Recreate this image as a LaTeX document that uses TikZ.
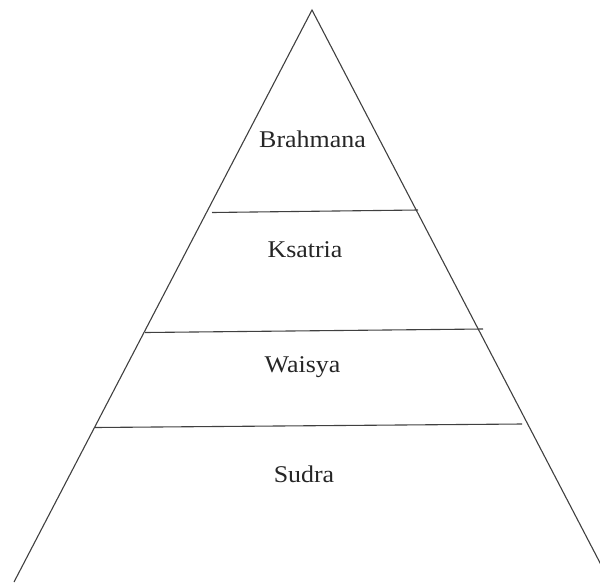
\documentclass[tikz,border=0pt]{standalone}
\usepackage{fontspec}
\setmainfont{Liberation Serif}
\newcommand{\wide}[1]{\scalebox{1.08}[1]{#1}}
\begin{document}
\begin{tikzpicture}[x=1pt,y=-1pt,
  edge/.style={draw=black!75,line width=1.1pt},
  label/.style={font=\fontsize{24}{28}\selectfont,text=black!85,inner sep=0pt,anchor=base}]
\useasboundingbox (0,0) rectangle (600,582);
\clip (0,0) rectangle (600,582);
\coordinate (apex) at (312,10);
\coordinate (bl) at (14,582);
\coordinate (br) at (610,582);
\draw[edge] (bl) -- (apex) -- (br);
\coordinate (l1a) at (212,212.5);
\coordinate (l1b) at (418,210);
\coordinate (l2a) at (145,332.5);
\coordinate (l2b) at (483,329);
\coordinate (l3a) at (95,427.5);
\coordinate (l3b) at (522,424);
\draw[edge] (l1a) -- (l1b);
\draw[edge] (l2a) -- (l2b);
\draw[edge] (l3a) -- (l3b);
\node[label] (brahmana) at (312.5,147) {\wide{Brahmana}};
\node[label] (ksatria) at (305,257) {\wide{Ksatria}};
\node[label] (waisya) at (302.5,372) {\wide{Waisya}};
\node[label] (sudra) at (304,482) {\wide{Sudra}};
\end{tikzpicture}
\end{document}
